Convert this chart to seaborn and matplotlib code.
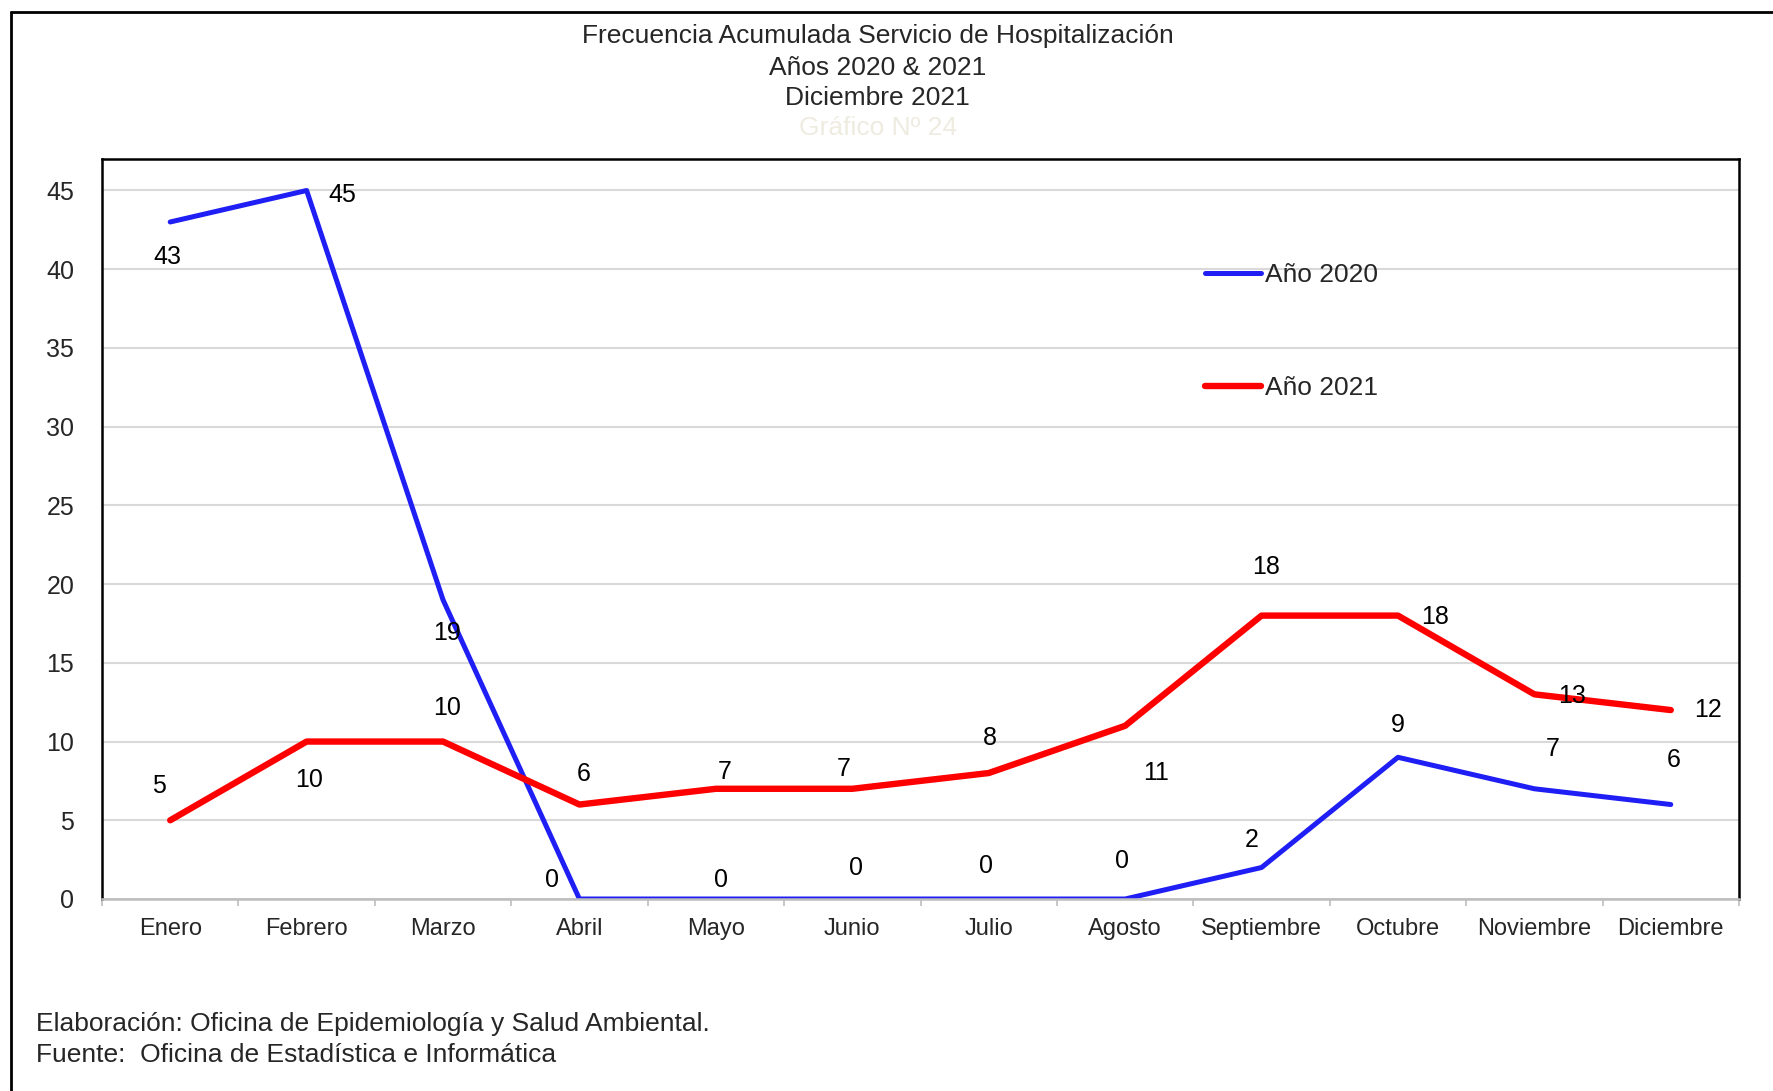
import pandas as pd
import matplotlib.pyplot as plt
from matplotlib.lines import Line2D
from matplotlib.ticker import FixedLocator
import seaborn as sns

# ── Data ───────────────────────────────────────────────────
MESES = ["Enero", "Febrero", "Marzo", "Abril", "Mayo", "Junio", "Julio",
         "Agosto", "Septiembre", "Octubre", "Noviembre", "Diciembre"]
CASOS_2020 = [43, 45, 19, 0, 0, 0, 0, 0, 2, 9, 7, 6]
CASOS_2021 = [5, 10, 10, 6, 7, 7, 8, 11, 18, 18, 13, 12]

# label offsets (points) for the value annotations
OFF_2020 = [(-2, -25), (26, -3), (3, -24), (-20, 14), (4, 14), (3, 22),
            (-2, 24), (-2, 27), (-7, 20), (0, 23), (13, 29), (2, 32)]
OFF_2021 = [(-8, 25), (2, -28), (3, 24), (3, 22), (6, 12), (-6, 14),
            (1, 25), (22, -34), (3, 35), (27, -1), (27, -1), (27, 0)]

TITULO = ["Frecuencia Acumulada Servicio de Hospitalización",
          "Años 2020 & 2021", "Diciembre 2021"]
SUBTITULO = "Gráfico Nº 24"
NOTAS = ["Elaboración: Oficina de Epidemiología y Salud Ambiental.",
         "Fuente:  Oficina de Estadística e Informática"]

AZUL = "#1F1FF5"
ROJO = "#FF0000"

df = pd.DataFrame({
    "Mes": list(range(12)) * 2,
    "Casos": CASOS_2020 + CASOS_2021,
    "Año": ["Año 2020"] * 12 + ["Año 2021"] * 12,
})

sns.set_style("white")
plt.rcParams["font.family"] = ["Liberation Sans", "DejaVu Sans"]

fig = plt.figure(figsize=(17.73, 10.91), dpi=100)
ax = fig.add_axes([102 / 1773, 192 / 1091, 1637 / 1773, 740 / 1091])

sns.lineplot(data=df[df["Año"] == "Año 2020"], x="Mes", y="Casos", color=AZUL,
             linewidth=3.6, label="Año 2020", ax=ax, solid_capstyle="round")
sns.lineplot(data=df[df["Año"] == "Año 2021"], x="Mes", y="Casos", color=ROJO,
             linewidth=4.6, label="Año 2021", ax=ax, solid_capstyle="round")

for vals, offs in ((CASOS_2020, OFF_2020), (CASOS_2021, OFF_2021)):
    for i, (v, o) in enumerate(zip(vals, offs)):
        ax.annotate(str(v), (i, v), xytext=o, textcoords="offset points",
                    ha="center", va="center", fontsize=18, color="black")

ax.set_xlim(-0.5, 11.5)
ax.set_ylim(0, 47)
ax.set_yticks(range(0, 50, 5))
ax.set_xticks(range(12))
ax.set_xticklabels(MESES)
ax.xaxis.set_minor_locator(FixedLocator([k - 0.5 for k in range(13)]))
ax.tick_params(axis="x", which="major", length=0, pad=14, labelsize=17)
ax.tick_params(axis="x", which="minor", length=5, width=1.2, color="#BDBDBD",
               direction="out", bottom=True)
ax.tick_params(axis="y", length=0, pad=20, labelsize=18)
ax.set_xlabel("")
ax.set_ylabel("")

ax.grid(axis="y", color="#D9D9D9", linewidth=1.5)
ax.set_axisbelow(True)
for side in ("left", "top", "right"):
    ax.spines[side].set_color("black")
    ax.spines[side].set_linewidth(1.8)
ax.spines["bottom"].set_color("#BDBDBD")
ax.spines["bottom"].set_linewidth(1.8)

leg = ax.legend(loc="upper left", bbox_to_anchor=(0.674, 0.859), frameon=False,
                fontsize=19, borderpad=0, borderaxespad=0, labelspacing=3.36,
                handlelength=2.1, handletextpad=0.15)
for h in leg.get_lines():
    h.set_solid_capstyle("round")

# titles
ys = [0.9668, 0.938, 0.910]
for t, y in zip(TITULO, ys):
    fig.text(0.495, y, t, ha="center", va="center", fontsize=19)
fig.text(0.495, 0.883, SUBTITULO, ha="center", va="center", fontsize=19,
         color="#EEEBE0")

# footer notes
for t, y in zip(NOTAS, [0.0615, 0.0328]):
    fig.text(36 / 1773, y, t, ha="left", va="center", fontsize=19)

# outer frame (top and left edges visible)
fig.add_artist(Line2D([11 / 1773, 1.0], [1 - 12 / 1091] * 2, color="black",
                      linewidth=2, transform=fig.transFigure))
fig.add_artist(Line2D([11 / 1773] * 2, [0.0, 1 - 12 / 1091], color="black",
                      linewidth=2, transform=fig.transFigure))

fig.savefig("out.png", dpi=100)
